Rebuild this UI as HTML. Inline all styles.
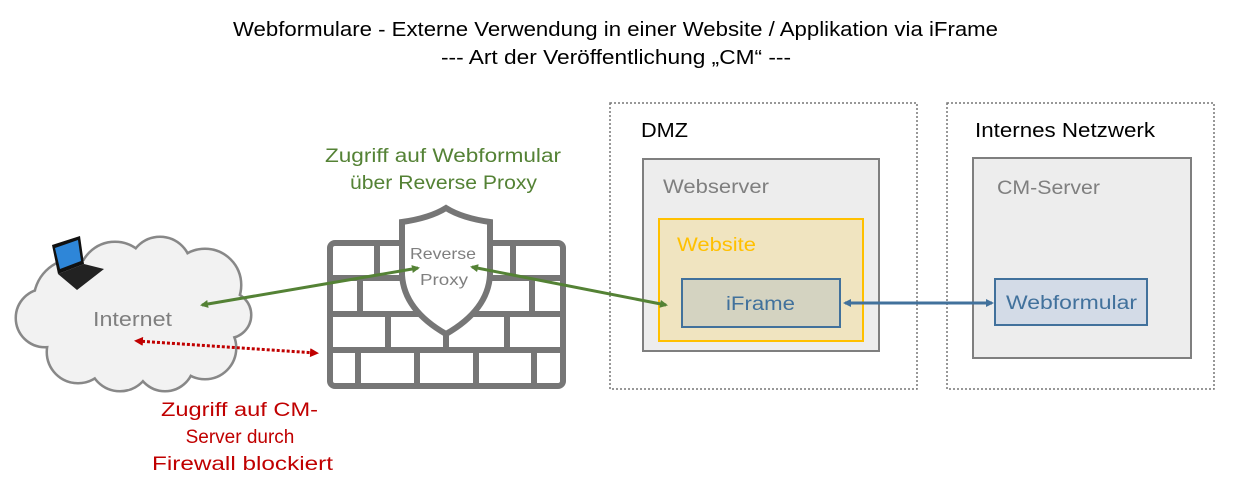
<!DOCTYPE html>
<html><head><meta charset="utf-8"><style>
body{margin:0;background:#fff;width:1239px;height:490px;overflow:hidden}
svg{display:block}
text{font-family:"Liberation Sans",sans-serif}
</style></head><body>
<svg width="1239" height="490" viewBox="0 0 1239 490" xmlns="http://www.w3.org/2000/svg">
<defs>
<marker id="ag" markerWidth="8" markerHeight="8" refX="6" refY="4" orient="auto-start-reverse" markerUnits="userSpaceOnUse"><path d="M0,0 L8,4 L0,8 z" fill="#548235"/></marker>
<marker id="ar" markerWidth="9" markerHeight="9" refX="6" refY="4.5" orient="auto-start-reverse" markerUnits="userSpaceOnUse"><path d="M0,0 L9,4.5 L0,9 z" fill="#c00000"/></marker>
<marker id="ab" markerWidth="8" markerHeight="8" refX="6" refY="4" orient="auto-start-reverse" markerUnits="userSpaceOnUse"><path d="M0,0 L8,4 L0,8 z" fill="#41719c"/></marker>
</defs>
<text x="233" y="36" font-size="20" textLength="765" lengthAdjust="spacingAndGlyphs" fill="#000">Webformulare - Externe Verwendung in einer Website / Applikation via iFrame</text>
<text x="441" y="64" font-size="20" textLength="350" lengthAdjust="spacingAndGlyphs" fill="#000">--- Art der Veröffentlichung „CM“ ---</text>

<!-- cloud -->
<g stroke="#888" stroke-width="5" fill="#888">
<circle cx="75" cy="300" r="40"/><circle cx="115" cy="278" r="35"/><circle cx="160" cy="268" r="30"/><circle cx="205" cy="285" r="35"/><circle cx="228" cy="315" r="22"/><circle cx="205" cy="348" r="30"/><circle cx="165" cy="362" r="28"/><circle cx="120" cy="360" r="30"/><circle cx="78" cy="352" r="30"/><circle cx="45" cy="318" r="28"/>
</g>
<g fill="#f2f2f2">
<circle cx="75" cy="300" r="40"/><circle cx="115" cy="278" r="35"/><circle cx="160" cy="268" r="30"/><circle cx="205" cy="285" r="35"/><circle cx="228" cy="315" r="22"/><circle cx="205" cy="348" r="30"/><circle cx="165" cy="362" r="28"/><circle cx="120" cy="360" r="30"/><circle cx="78" cy="352" r="30"/><circle cx="45" cy="318" r="28"/><circle cx="130" cy="318" r="50"/><circle cx="190" cy="318" r="28"/>
</g>
<text x="93" y="326" font-size="20" textLength="79" lengthAdjust="spacingAndGlyphs" fill="#7f7f7f">Internet</text>
<!-- laptop -->
<polygon points="52,245 80,236 84,264 58,274" fill="#111"/>
<polygon points="55,248 78,240 81,261 60,269" fill="#2e86d8"/>
<polygon points="58,274 84,264 104,269 77,290" fill="#222"/>

<!-- firewall -->
<g stroke="#767676" stroke-width="6" fill="none">
<rect x="330" y="243" width="233" height="143" rx="5" fill="#fff"/>
<line x1="330" y1="278" x2="563" y2="278"/><line x1="330" y1="314" x2="563" y2="314"/><line x1="330" y1="350" x2="563" y2="350"/>
<line x1="377" y1="243" x2="377" y2="278"/><line x1="513" y1="243" x2="513" y2="278"/>
<line x1="360" y1="278" x2="360" y2="314"/><line x1="532" y1="278" x2="532" y2="314"/>
<line x1="388" y1="314" x2="388" y2="350"/><line x1="446" y1="314" x2="446" y2="350"/><line x1="507" y1="314" x2="507" y2="350"/>
<line x1="358" y1="350" x2="358" y2="386"/><line x1="417" y1="350" x2="417" y2="386"/><line x1="476" y1="350" x2="476" y2="386"/><line x1="534" y1="350" x2="534" y2="386"/>
<path d="M402,222 Q430,218 446,208 Q462,218 490,222 L490,275 Q488,310 446,334 Q404,310 402,275 Z" fill="#fff"/>
</g>
<text x="410" y="259" font-size="16" textLength="66" lengthAdjust="spacingAndGlyphs" fill="#7f7f7f">Reverse</text>
<text x="420" y="285" font-size="16" textLength="48" lengthAdjust="spacingAndGlyphs" fill="#7f7f7f">Proxy</text>

<text x="325" y="162" font-size="19" textLength="236" lengthAdjust="spacingAndGlyphs" fill="#548235">Zugriff auf Webformular</text>
<text x="350" y="189" font-size="19" textLength="187" lengthAdjust="spacingAndGlyphs" fill="#548235">über Reverse Proxy</text>
<text x="161" y="416" font-size="19" textLength="157" lengthAdjust="spacingAndGlyphs" fill="#c00000">Zugriff auf CM-</text>
<text x="240" y="443" font-size="19" text-anchor="middle" fill="#c00000">Server durch</text>
<text x="152" y="470" font-size="19" textLength="181" lengthAdjust="spacingAndGlyphs" fill="#c00000">Firewall blockiert</text>

<!-- DMZ -->
<rect x="610" y="103" width="307" height="286" fill="none" stroke="#777" stroke-width="1.5" stroke-dasharray="2,2"/>
<text x="641" y="137" font-size="20" textLength="47" lengthAdjust="spacingAndGlyphs" fill="#000">DMZ</text>
<rect x="643" y="159" width="236" height="192" fill="#ededed" stroke="#7f7f7f" stroke-width="2"/>
<text x="663" y="193" font-size="19" textLength="106" lengthAdjust="spacingAndGlyphs" fill="#7f7f7f">Webserver</text>
<rect x="659" y="219" width="204" height="122" fill="#f0e4c0" stroke="#ffc000" stroke-width="2"/>
<text x="677" y="251" font-size="19" textLength="79" lengthAdjust="spacingAndGlyphs" fill="#ffc000">Website</text>
<rect x="682" y="279" width="158" height="48" fill="#d4d3c1" stroke="#41719c" stroke-width="2"/>
<text x="726" y="310" font-size="19" textLength="69" lengthAdjust="spacingAndGlyphs" fill="#41719c">iFrame</text>

<!-- Internes -->
<rect x="947" y="103" width="267" height="286" fill="none" stroke="#777" stroke-width="1.5" stroke-dasharray="2,2"/>
<text x="975" y="137" font-size="20" textLength="180" lengthAdjust="spacingAndGlyphs" fill="#000">Internes Netzwerk</text>
<rect x="973" y="158" width="218" height="200" fill="#ededed" stroke="#7f7f7f" stroke-width="2"/>
<text x="997" y="194" font-size="19" textLength="103" lengthAdjust="spacingAndGlyphs" fill="#7f7f7f">CM-Server</text>
<rect x="995" y="279" width="152" height="46" fill="#d3dbe7" stroke="#41719c" stroke-width="2"/>
<text x="1006" y="309" font-size="19" textLength="131" lengthAdjust="spacingAndGlyphs" fill="#41719c">Webformular</text>

<!-- connectors -->
<line x1="202" y1="305" x2="418" y2="268" stroke="#548235" stroke-width="3" marker-start="url(#ag)" marker-end="url(#ag)"/>
<line x1="472" y1="267" x2="666" y2="305" stroke="#548235" stroke-width="3" marker-start="url(#ag)" marker-end="url(#ag)"/>
<line x1="137" y1="341" x2="316" y2="353" stroke="#c00000" stroke-width="3" stroke-dasharray="3,2" marker-start="url(#ar)" marker-end="url(#ar)"/>
<line x1="845" y1="303" x2="992" y2="303" stroke="#41719c" stroke-width="3" marker-start="url(#ab)" marker-end="url(#ab)"/>
</svg>
</body></html>
